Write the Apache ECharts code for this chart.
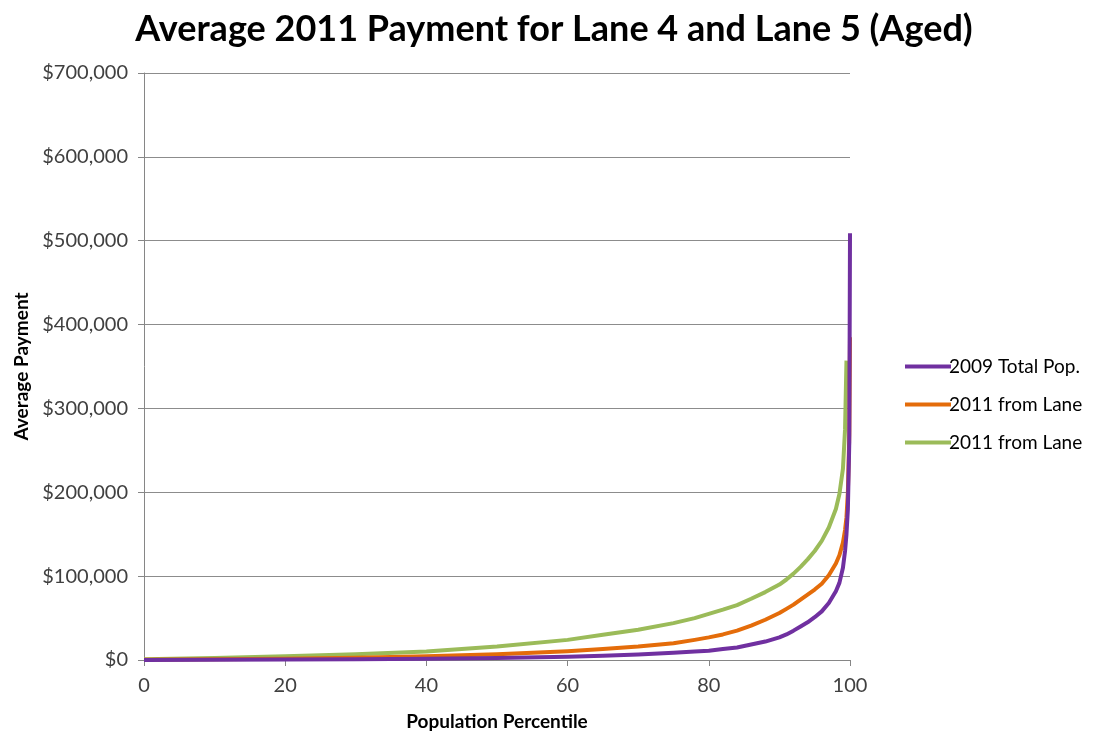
<!DOCTYPE html>
<html>
<head>
<meta charset="utf-8">
<title>Average 2011 Payment</title>
<script src="https://cdn.jsdelivr.net/npm/echarts@6/dist/echarts.min.js"></script>
<style>
  html, body { margin: 0; padding: 0; background: #fff; }
  #chart { width: 1099px; height: 756px; }
</style>
</head>
<body>
<div id="chart"></div>
<script>
// population percentile (x) for every point below
const percentiles = [0, 10, 20, 30, 40, 50, 60, 65, 70, 75, 78, 80, 82, 84, 86, 88, 90, 91, 92, 93, 94, 95, 96, 97, 98, 98.5, 99, 99.3, 99.5, 99.7, 99.9, 100]
const pop2009 = [0, 200, 500, 900, 1500, 2500, 4000, 5200, 6500, 8500, 10000, 11000, 13000, 15000, 18500, 22000, 27000, 30500, 35000, 40000, 45000, 51000, 58000, 68000, 82000, 92000, 110000, 130000, 150000, 180000, 260000, 509000]
const lane2011a = [300, 800, 1500, 2800, 4500, 7000, 10500, 13000, 16000, 20000, 24000, 27000, 30500, 35000, 41000, 48000, 56000, 61000, 66000, 72000, 78000, 84000, 91000, 101000, 115000, 125000, 140000, 155000, 170000, 200000, 270000, 385000]
const lane2011b = [1000, 2500, 4500, 7000, 10000, 16000, 24000, 30000, 36000, 44000, 50000, 55000, 60000, 65500, 73000, 81000, 90000, 96000, 103000, 111000, 120000, 130000, 142000, 158000, 180000, 198000, 228000, 275000, 357000, null, null, null]
const seriesNames = ['2009 Total Pop.', '2011 from Lane', '2011 from Lane ']
const colors = ['#7030A0', '#E46C0A', '#9BBB59']

const font = 'Lato, "Open Sans", sans-serif'
const chart = echarts.init(document.getElementById('chart'))

const pairs = vals => percentiles.map((p, i) => [p, vals[i]])
const seriesArr = [pop2009, lane2011a, lane2011b].map((vals, i) => ({
  name: seriesNames[i],
  type: 'line',
  data: pairs(vals),
  showSymbol: false,
  z: 3 - i,
  lineStyle: { color: colors[i], width: 4, join: 'round' },
  itemStyle: { color: colors[i] }
}))

chart.setOption({
  animation: false,
  title: {
    text: 'Average 2011 Payment for Lane 4 and Lane 5 (Aged)',
    left: 549,
    textAlign: 'center',
    top: 6,
    textStyle: { fontFamily: font, fontSize: 36, fontWeight: 'bold', color: '#000' }
  },
  legend: {
    orient: 'vertical',
    left: 900,
    top: 352,
    itemWidth: 46,
    itemHeight: 4,
    itemGap: 19,
    icon: 'rect',
    textStyle: { fontFamily: font, fontSize: 19, color: '#000', padding: [0, 0, 0, -7] },
    data: seriesNames
  },
  grid: { left: 144, right: 249, top: 73, bottom: 96, outerBoundsMode: 'none', containLabel: false },
  xAxis: {
    type: 'value',
    min: 0,
    max: 100,
    interval: 20,
    name: 'Population Percentile',
    nameLocation: 'middle',
    nameGap: 52,
    nameTextStyle: { fontFamily: font, fontSize: 19, fontWeight: 'bold', color: '#000' },
    axisLine: { show: true, lineStyle: { color: '#868686' } },
    axisTick: { show: true, length: 6, lineStyle: { color: '#868686' } },
    axisLabel: { fontFamily: font, fontSize: 20, color: '#404040', margin: 16 },
    splitLine: { show: false }
  },
  yAxis: {
    type: 'value',
    min: 0,
    max: 700000,
    interval: 100000,
    name: 'Average Payment',
    nameLocation: 'middle',
    nameGap: 113,
    nameTextStyle: { fontFamily: font, fontSize: 19, fontWeight: 'bold', color: '#000' },
    axisLine: { show: true, lineStyle: { color: '#868686' } },
    axisTick: { show: true, length: 6, lineStyle: { color: '#868686' } },
    axisLabel: {
      fontFamily: font, fontSize: 20, color: '#404040', margin: 16,
      formatter: v => '$' + v.toLocaleString('en-US')
    },
    splitLine: { show: true, lineStyle: { color: '#8c8c8c', width: 1 } }
  },
  series: seriesArr
})
</script>
</body>
</html>
